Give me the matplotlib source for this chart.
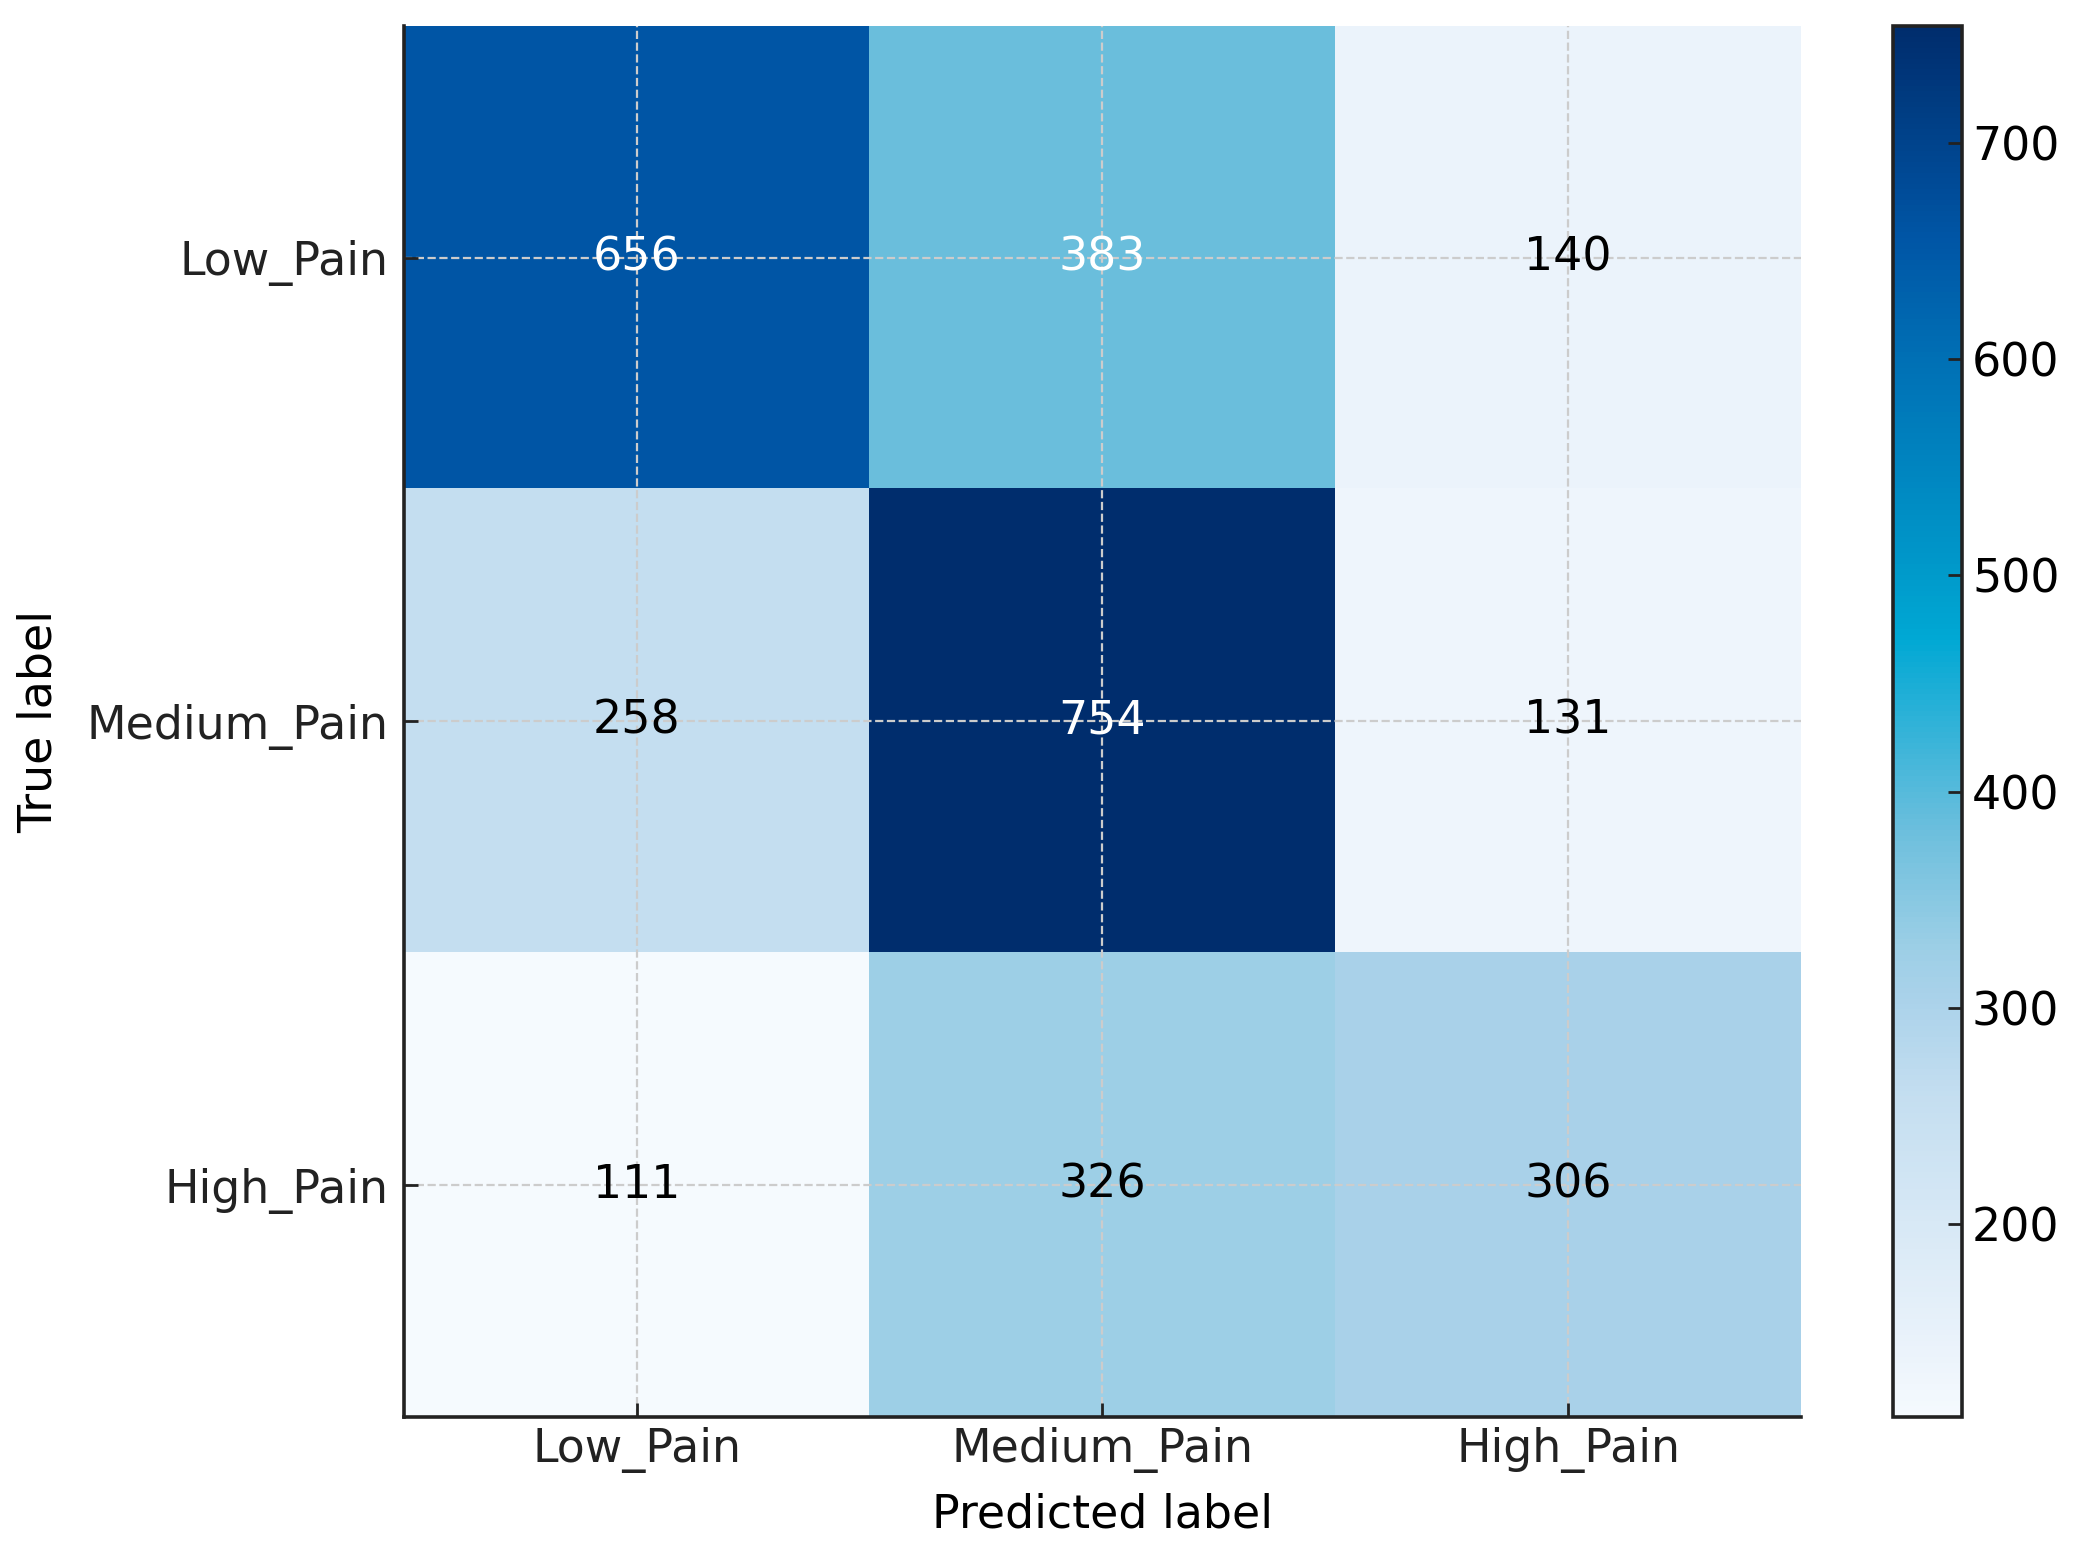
import numpy as np
import matplotlib
matplotlib.use("Agg")
import matplotlib.pyplot as plt
from matplotlib.colors import LinearSegmentedColormap

# confusion matrix values (rows = true, cols = predicted)
class_names = ["Low_Pain", "Medium_Pain", "High_Pain"]
row_low = [656, 383, 140]
row_medium = [258, 754, 131]
row_high = [111, 326, 306]
cbar_ticks = [200, 300, 400, 500, 600, 700]

cm = np.array([row_low, row_medium, row_high])

# colour ramp sampled from the reference colour bar
cmap = LinearSegmentedColormap.from_list(
    "pain_blues",
    [(0.00, "#f5fafe"), (0.045, "#ebf3fb"), (0.23, "#c4def0"),
     (0.30, "#aad2ea"), (0.335, "#9dcfe6"), (0.42, "#6dbfdd"),
     (0.56, "#00a8d4"), (0.61, "#0099ca"), (0.76, "#0070b5"),
     (0.85, "#0055a5"), (1.00, "#002d6d")])

plt.rcParams["font.family"] = ["DejaVu Sans"]
plt.rcParams["font.size"] = 16.5

fig = plt.figure(figsize=(10.38, 7.765), dpi=200)
ax = fig.add_axes([0.1946, 0.0876, 0.6729, 0.8957])
cax = fig.add_axes([0.912, 0.0876, 0.0332, 0.8957])

im = ax.imshow(cm, cmap=cmap, interpolation="nearest", aspect="auto")
cb = fig.colorbar(im, cax=cax, ticks=cbar_ticks)
cb.outline.set_linewidth(1.3)
cb.outline.set_edgecolor("#222222")
cax.tick_params(direction="in", length=5, width=1, labelsize=16.5, color="#222222")

ax.set_xticks(np.arange(len(class_names)))
ax.set_yticks(np.arange(len(class_names)))
ax.set_xticklabels(class_names)
ax.set_yticklabels(class_names)
ax.set_xlabel("Predicted label", labelpad=7)
ax.set_ylabel("True label", labelpad=9)
ax.tick_params(direction="in", length=5, width=1, colors="#222222", labelcolor="#222222")
ax.tick_params(axis="y", pad=5.5)

for side in ["top", "right"]:
    ax.spines[side].set_visible(False)
for side in ["left", "bottom"]:
    ax.spines[side].set_linewidth(1.3)
    ax.spines[side].set_color("#222222")

ax.grid(True, linestyle="--", color="#cccccc", linewidth=0.8)

thresh = cm.max() / 2.0
for i in range(cm.shape[0]):
    for j in range(cm.shape[1]):
        ax.text(j, i, format(cm[i, j], "d"), ha="center", va="center",
                color="white" if cm[i, j] > thresh else "black")

fig.savefig("out.png", dpi=200)
